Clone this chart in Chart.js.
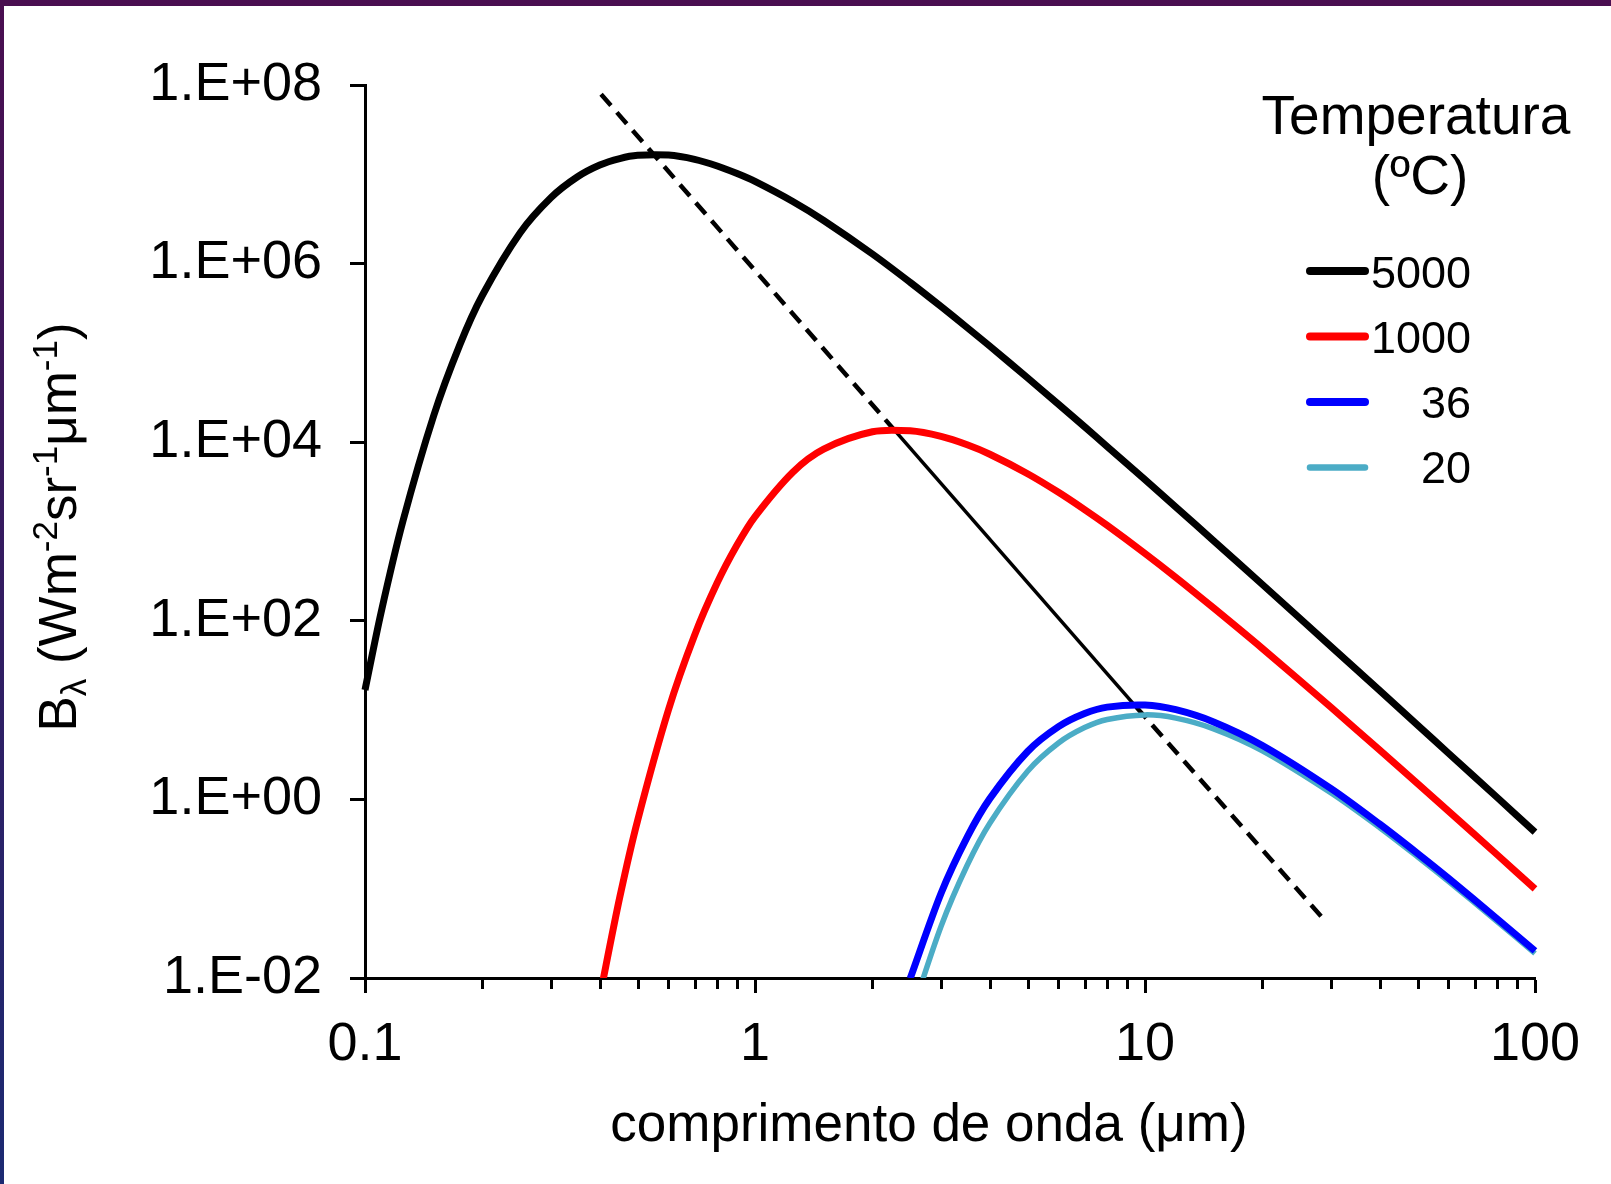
<!DOCTYPE html>
<html>
<head>
<meta charset="utf-8">
<script src="https://cdn.jsdelivr.net/npm/chart.js@4.4.0/dist/chart.umd.min.js"></script>
<style>
  html, body { margin: 0; padding: 0; }
  body { width: 1611px; height: 1184px; overflow: hidden; position: relative;
         background: linear-gradient(#4a0e50, #1c2a72); }
  #paper { position: absolute; left: 4px; top: 6px; right: 0; bottom: 0; background: #fff; }
  #chart { position: absolute; left: 0; top: 0; }
</style>
</head>
<body>
<div id="paper"></div>
<canvas id="chart" width="1611" height="1184"></canvas>
<script>
// comprimento de onda (um)
const wavelength = [0.1, 0.11, 0.125, 0.15, 0.175, 0.2, 0.25, 0.3, 0.35, 0.4, 0.45, 0.5, 0.6, 0.7, 0.8, 0.9,
  1, 1.25, 1.5, 2, 2.5, 3, 3.5, 4, 5, 6, 7, 8, 10, 12, 15, 20, 30, 40, 50, 60, 80, 100];

// B lambda (W m-2 sr-1 um-1)
const b5000 = [16.8, 125, 1290, 1.98e4, 1.23e5, 4.42e5, 2.22e6, 5.5e6, 9.33e6, 1.27e7, 1.5e7, 1.63e7, 1.64e7, 1.47e7, 1.24e7, 1.02e7,
  8.32e6, 4.96e6, 3.04e6, 1.28e6, 6.16e5, 3.3e5, 1.92e5, 1.19e5, 5.25e4, 2.66e4, 1.49e4, 8940, 3800, 1875, 786, 255, 51.5, 16.5, 6.8, 3.29, 1.05, 0.43];
const b1000 = [null, null, null, null, null, null, null, null, null, 0.0062, 0.08, 0.58, 10.1, 68.9, 266, 709,
  1470, 4620, 8380, 13100, 13400, 11600, 9350, 7330, 4440, 2750, 1760, 1170, 568, 306, 139, 49, 10.7, 3.56, 1.5, 0.739, 0.24, 0.0995];
const b36 = [null, null, null, null, null, null, null, null, null, null, null, null, null, null, null, null,
  null, null, null, null, 0.0099, 0.089, 0.378, 1.02, 3.44, 6.53, 9.16, 10.8, 11.4, 10.1, 7.37, 4.02, 1.32, 0.528, 0.248, 0.131, 0.046, 0.0201];
const b20 = [null, null, null, null, null, null, null, null, null, null, null, null, null, null, null, null,
  null, null, null, null, 0.0036, 0.038, 0.183, 0.542, 2.07, 4.28, 6.37, 7.86, 8.84, 8.13, 6.17, 3.5, 1.18, 0.482, 0.228, 0.121, 0.0429, 0.0188];

// linha dos maximos (Wien): tracejada, continua entre 1000 e 36, tracejada outra vez
const wienDash1X = [0.403, 2.27];
const wienDash1Y = [7.87e7, 1.39e4];
const wienSolidX = [2.27, 9.5];
const wienSolidY = [1.39e4, 10.8];
const wienDash2X = [9.5, 28.9];
const wienDash2Y = [10.8, 0.0442];

const seriesLabels = ['5000', '1000', '36', '20'];
const legendTitle = ['Temperatura', '(\u00baC)'];
const xTitle = 'comprimento de onda (\u03bcm)';

const xTickValues = [0.1, 0.2, 0.3, 0.4, 0.5, 0.6, 0.7, 0.8, 0.9, 1, 2, 3, 4, 5, 6, 7, 8, 9,
  10, 20, 30, 40, 50, 60, 70, 80, 90, 100];
const xMajor = [0.1, 1, 10, 100];
const xMajorLabels = ['0.1', '1', '10', '100'];
const yTickValues = [1e-2, 1, 1e2, 1e4, 1e6, 1e8];
const yTickLabels = ['1.E-02', '1.E+00', '1.E+02', '1.E+04', '1.E+06', '1.E+08'];

const FONT = '"Liberation Sans", Arial, sans-serif';

function pts(xs, ys) {
  return xs.map((x, i) => ({ x: x, y: ys[i] }));
}

function line(label, xs, ys, color, width, dash, tension) {
  return {
    label: label,
    data: pts(xs, ys),
    borderColor: color,
    borderWidth: width,
    borderDash: dash || [],
    pointRadius: 0,
    tension: tension || 0,
    fill: false,
    borderJoinStyle: 'round',
    clip: { left: 4, right: 4, top: 4, bottom: 0 }
  };
}

// ticks menores do eixo x
const minorTicks = {
  id: 'minorTicks',
  afterDraw(chart) {
    const s = chart.scales.x;
    const ctx = chart.ctx;
    ctx.save();
    ctx.strokeStyle = '#000';
    ctx.lineWidth = 3;
    s.ticks.forEach(t => {
      if (t.major) return;
      const px = Math.round(s.getPixelForValue(t.value)) + 0.5;
      ctx.beginPath();
      ctx.moveTo(px, s.top);
      ctx.lineTo(px, s.top + 11);
      ctx.stroke();
    });
    ctx.restore();
  }
};

// titulos dos eixos
const axisTitles = {
  id: 'axisTitles',
  afterDraw(chart) {
    const ctx = chart.ctx;
    ctx.save();
    ctx.fillStyle = '#000';
    ctx.textBaseline = 'alphabetic';
    ctx.textAlign = 'center';
    ctx.font = '53px ' + FONT;
    ctx.fillText(xTitle, 929, 1141);

    // B lambda (Wm-2sr-1um-1) com sub/sobrescritos
    const parts = [
      { t: 'B', s: 0 }, { t: '\u03bb', s: 1 }, { t: ' (Wm', s: 0 }, { t: '-2', s: -1 },
      { t: 'sr', s: 0 }, { t: '-1', s: -1 }, { t: '\u03bcm', s: 0 }, { t: '-1', s: -1 }, { t: ')', s: 0 }
    ];
    const fontFor = p => (p.s === 0 ? '53px ' : '35px ') + FONT;
    let total = 0;
    parts.forEach(p => { ctx.font = fontFor(p); p.w = ctx.measureText(p.t).width; total += p.w; });
    ctx.translate(76, 527);
    ctx.rotate(-Math.PI / 2);
    ctx.textAlign = 'left';
    let x = -total / 2;
    parts.forEach(p => {
      ctx.font = fontFor(p);
      const dy = p.s === 1 ? 10 : (p.s === -1 ? -19 : 0);
      ctx.fillText(p.t, x, dy);
      x += p.w;
    });
    ctx.restore();
  }
};

// legenda com texto alinhado a direita
const tempLegend = {
  id: 'tempLegend',
  afterDraw(chart) {
    const ctx = chart.ctx;
    ctx.save();
    ctx.fillStyle = '#000';
    ctx.textBaseline = 'alphabetic';
    ctx.textAlign = 'center';
    ctx.font = '55px ' + FONT;
    ctx.fillText(legendTitle[0], 1416, 134);
    ctx.fillText(legendTitle[1], 1420, 194);
    ctx.font = '45px ' + FONT;
    ctx.textAlign = 'right';
    ctx.lineCap = 'round';
    chart.data.datasets.slice(0, seriesLabels.length).forEach((ds, i) => {
      const ly = 271 + i * 65.5;
      ctx.strokeStyle = ds.borderColor;
      ctx.lineWidth = ds.borderWidth + 1;
      ctx.beginPath();
      ctx.moveTo(1310, ly);
      ctx.lineTo(1365, ly);
      ctx.stroke();
      ctx.fillText(ds.label, 1471, 288 + i * 65);
    });
    ctx.restore();
  }
};

new Chart(document.getElementById('chart'), {
  type: 'line',
  data: {
    datasets: [
      line(seriesLabels[0], wavelength, b5000, '#000000', 7, null, 0.3),
      line(seriesLabels[1], wavelength, b1000, '#ff0000', 7, null, 0.3),
      line(seriesLabels[2], wavelength, b36, '#0000ff', 7, null, 0.3),
      line(seriesLabels[3], wavelength, b20, '#4bacc6', 5.5, null, 0.3),
      line('Wien a', wienDash1X, wienDash1Y, '#000000', 4.5, [15, 9]),
      line('Wien b', wienSolidX, wienSolidY, '#000000', 3.5),
      line('Wien c', wienDash2X, wienDash2Y, '#000000', 4.5, [15, 9])
    ]
  },
  options: {
    responsive: false,
    animation: false,
    devicePixelRatio: 1,
    layout: { padding: { top: 85, right: 76, left: 0, bottom: 0 } },
    plugins: { legend: { display: false }, tooltip: { enabled: false } },
    scales: {
      x: {
        type: 'logarithmic',
        position: 'bottom',
        min: 0.1,
        max: 100,
        afterBuildTicks: s => {
          s.ticks = xTickValues.map(v => ({ value: v, major: xMajor.includes(v) }));
        },
        afterFit: s => { s.height = 206; },
        ticks: {
          autoSkip: false,
          maxRotation: 0,
          padding: 20,
          color: '#000',
          font: { family: FONT, size: 54 },
          callback: v => {
            const k = xMajor.indexOf(v);
            return k >= 0 ? xMajorLabels[k] : '';
          }
        },
        grid: {
          drawOnChartArea: false,
          drawTicks: true,
          tickLength: 15,
          tickWidth: 3,
          tickColor: c => (c.tick && c.tick.major) ? '#000' : 'rgba(0,0,0,0)'
        },
        border: { display: true, color: '#000', width: 3 }
      },
      y: {
        type: 'logarithmic',
        min: 1e-2,
        max: 1e8,
        afterBuildTicks: s => {
          s.ticks = yTickValues.map(v => ({ value: v, major: true }));
        },
        afterFit: s => { s.width = 365; },
        ticks: {
          autoSkip: false,
          padding: 28,
          color: '#000',
          font: { family: FONT, size: 54 },
          callback: (v, i) => yTickLabels[i]
        },
        grid: {
          drawOnChartArea: false,
          drawTicks: true,
          tickLength: 15,
          tickWidth: 3,
          tickColor: '#000'
        },
        border: { display: true, color: '#000', width: 3 }
      }
    }
  },
  plugins: [minorTicks, axisTitles, tempLegend]
});
</script>
</body>
</html>
